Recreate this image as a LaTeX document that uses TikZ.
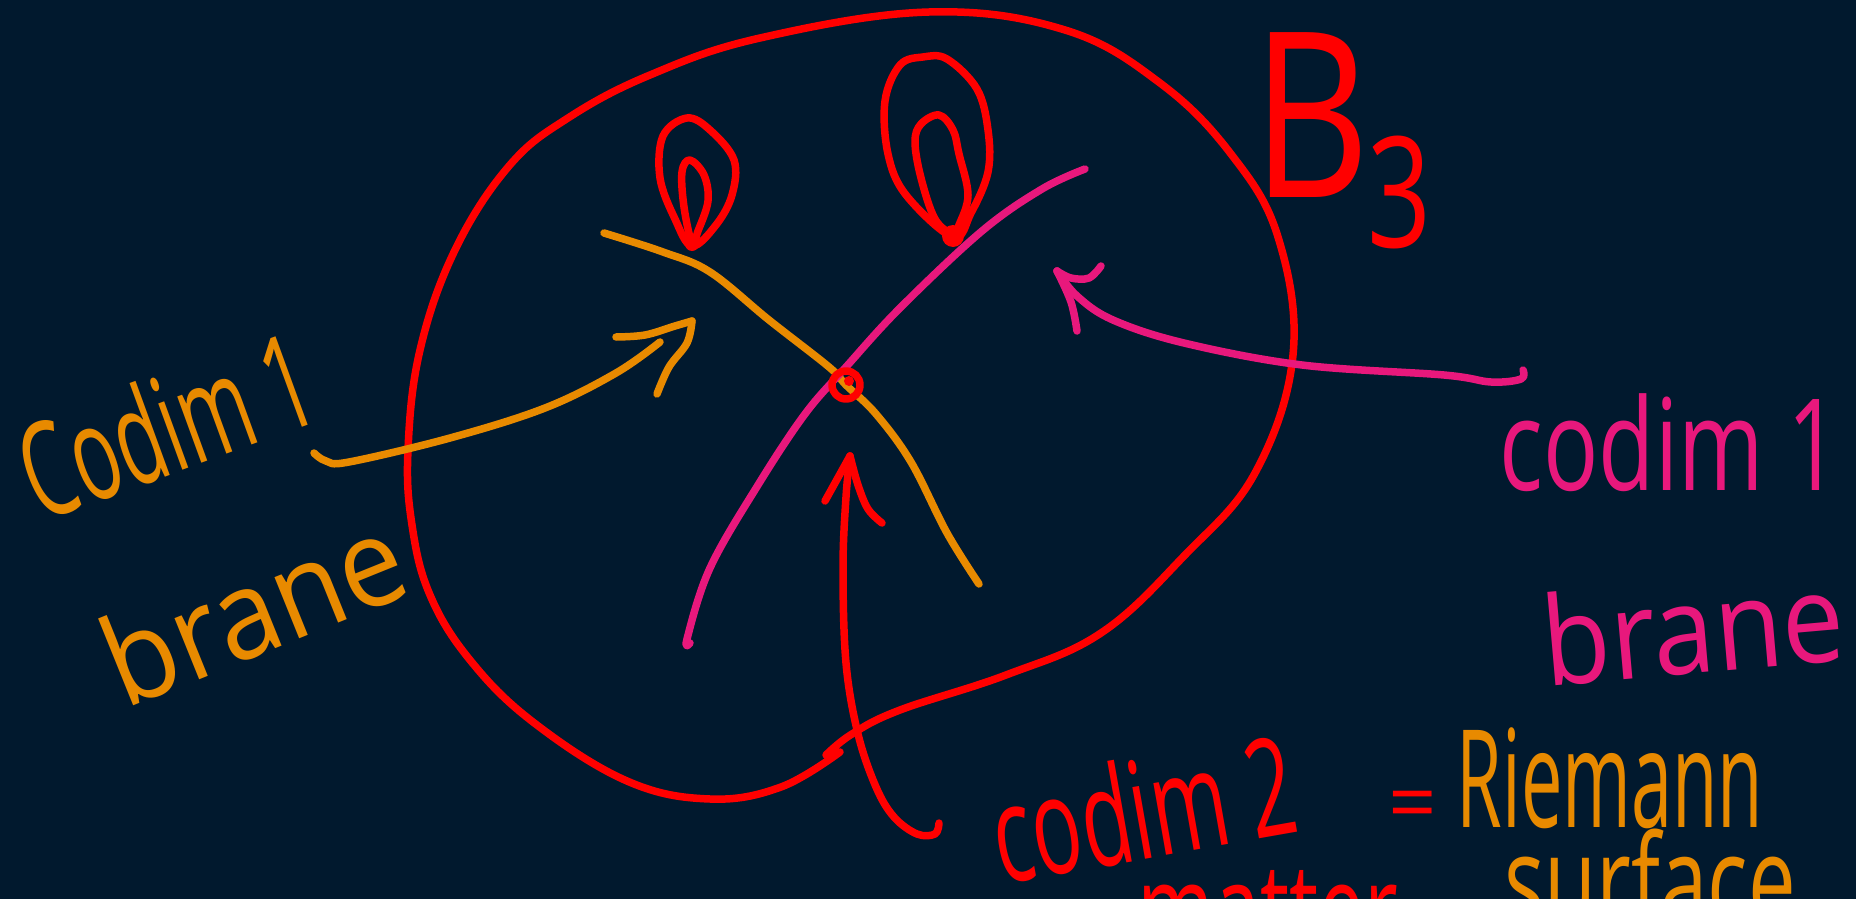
\documentclass[tikz,border=0pt]{standalone}
\usepackage{fontspec}
\usepackage{graphicx}
\setmainfont{Open Sans}
\definecolor{bg}{RGB}{1,25,46}
\definecolor{hred}{RGB}{255,0,0}
\definecolor{horange}{RGB}{232,138,0}
\definecolor{hpink}{RGB}{232,24,124}
\begin{document}
\begin{tikzpicture}[x=1pt,y=-1pt, line cap=round, line join=round,
  pen/.style={line width=7.5pt},
  txt/.style={inner sep=0pt, font=\fontsize{85}{95}\selectfont}]
\fill[bg] (0,0) rectangle (1856,899);
\useasboundingbox (0,0) rectangle (1856,899);
\clip (0,0) rectangle (1856,899);

% B3 region boundary
\draw[pen, hred] plot[smooth, tension=0.65] coordinates {(840,752) (781,787) (710,799) (627,781) (533,722) (470,660) (430,595) (412,525) (408,450) (420,350) (455,250) (509,166) (568,118) (650,75) (760,38) (929,12) (1065,30) (1160,83) (1231,154) (1278,237) (1293,355) (1255,473) (1184,556) (1101,633) (1006,675) (900,710) (852,734) (826,755)};

% codim 1 branes
\draw[pen, horange] plot[smooth, tension=0.6] coordinates {(604,233) (663,252) (710,272) (769,320) (829,367) (846,385) (876,414) (911,462) (947,533) (979,584)};
\draw[pen, hpink] plot[smooth, tension=0.6] coordinates {(1085,169) (1042,189) (982,231) (900,308) (846,367) (805,414) (758,485) (710,568) (687,639) (690,643)};

% intersection
\coordinate (x) at (846,385);
\draw[pen, hred] (x) circle (14);
\fill[hred] (849,381) circle (5);

% leaves (Riemann surface sketches)
\draw[pen, hred] plot[smooth cycle, tension=0.6] coordinates {(692,246) (675,219) (660,178) (663,136) (687,118) (710,130) (734,160) (732,195) (716,225)};
\draw[pen, hred] plot[smooth cycle, tension=0.6] coordinates {(692,243) (684,207) (682,172) (690,160) (704,175) (708,201) (698,231)};
\fill[hred] (692,244) circle (7);
\draw[pen, hred] plot[smooth cycle, tension=0.6] coordinates {(953,237) (906,195) (888,154) (885,101) (900,65) (923,57) (947,59) (977,89) (988,130) (988,172) (971,213)};
\draw[pen, hred] plot[smooth cycle, tension=0.6] coordinates {(953,234) (935,219) (921,178) (915,142) (921,124) (939,115) (953,130) (959,154) (968,195) (959,225)};
\fill[hred] (953,236) circle (11);

% B3 label
\node[txt, text=hred, font=\fontsize{140}{150}\selectfont] (B) at (1311,115) {\scalebox{1.3}[1.65]{B}};
\node[txt, text=hred, font=\fontsize{140}{150}\selectfont] (three) at (1400,192) {\scalebox{0.8}[1.1]{3}};

% labels
\node[txt, text=horange, rotate=20] (lc) at (166,424) {\scalebox{0.92}[1.55]{Codim 1}};
\node[txt, text=horange, rotate=22] (lb) at (253,608) {\scalebox{1.35}[1.45]{brane}};
\node[txt, text=hpink] (rc) at (1670,443) {\scalebox{1.08}[1.5]{codim 1}};
\node[txt, text=hpink, rotate=5] (rb) at (1693,627) {\scalebox{1.3}[1.45]{brane}};
\node[txt, text=hred, rotate=10] (cc) at (1143,808) {\scalebox{0.97}[1.6]{codim 2}};
\node[txt, text=hred, anchor=north] (cm) at (1268,870) {\scalebox{0.97}[1.5]{matter}};
\node[txt, text=hred] (eq) at (1413,812) {=};
\node[txt, text=horange] (rr) at (1610,778) {\scalebox{0.87}[1.6]{Riemann}};
\node[txt, text=horange, anchor=north] (rs) at (1650,829) {\scalebox{1.0}[1.5]{surface}};

% orange arrow
\coordinate (oa) at (314,453);
\coordinate (ot) at (692,321);
\draw[pen, horange] plot[smooth, tension=0.6] coordinates {(oa) (326,461) (349,462) (450,438) (545,408) (616,373) (660,342)};
\draw[pen, horange] plot[smooth, tension=0.6] coordinates {(616,337) (645,335) (675,326) (ot)};
\draw[pen, horange] plot[smooth, tension=0.6] coordinates {(ot) (687,343) (669,367) (657,394)};

% pink arrow
\coordinate (pa) at (1523,370);
\coordinate (pt) at (1057,271);
\draw[pen, hpink] plot[smooth, tension=0.6] coordinates {(pa) (1521,379) (1491,382) (1444,375) (1302,365) (1184,343) (1113,320) (1077,296) (pt)};
\draw[pen, hpink] plot[smooth, tension=0.6] coordinates {(pt) (1071,278) (1089,278) (1101,266)};
\draw[pen, hpink] plot[smooth, tension=0.6] coordinates {(pt) (1071,302) (1077,331)};

% red arrow
\coordinate (ra) at (939,823);
\coordinate (rt) at (850,456);
\draw[pen, hred] plot[smooth, tension=0.6] coordinates {(ra) (935,834) (917,834) (894,817) (876,787) (858,734) (846,663) (843,568) (846,497) (rt)};
\draw[pen, hred] (825,501) -- (rt);
\draw[pen, hred] plot[smooth, tension=0.6] coordinates {(rt) (858,485) (868,509) (882,523)};
\end{tikzpicture}
\end{document}
